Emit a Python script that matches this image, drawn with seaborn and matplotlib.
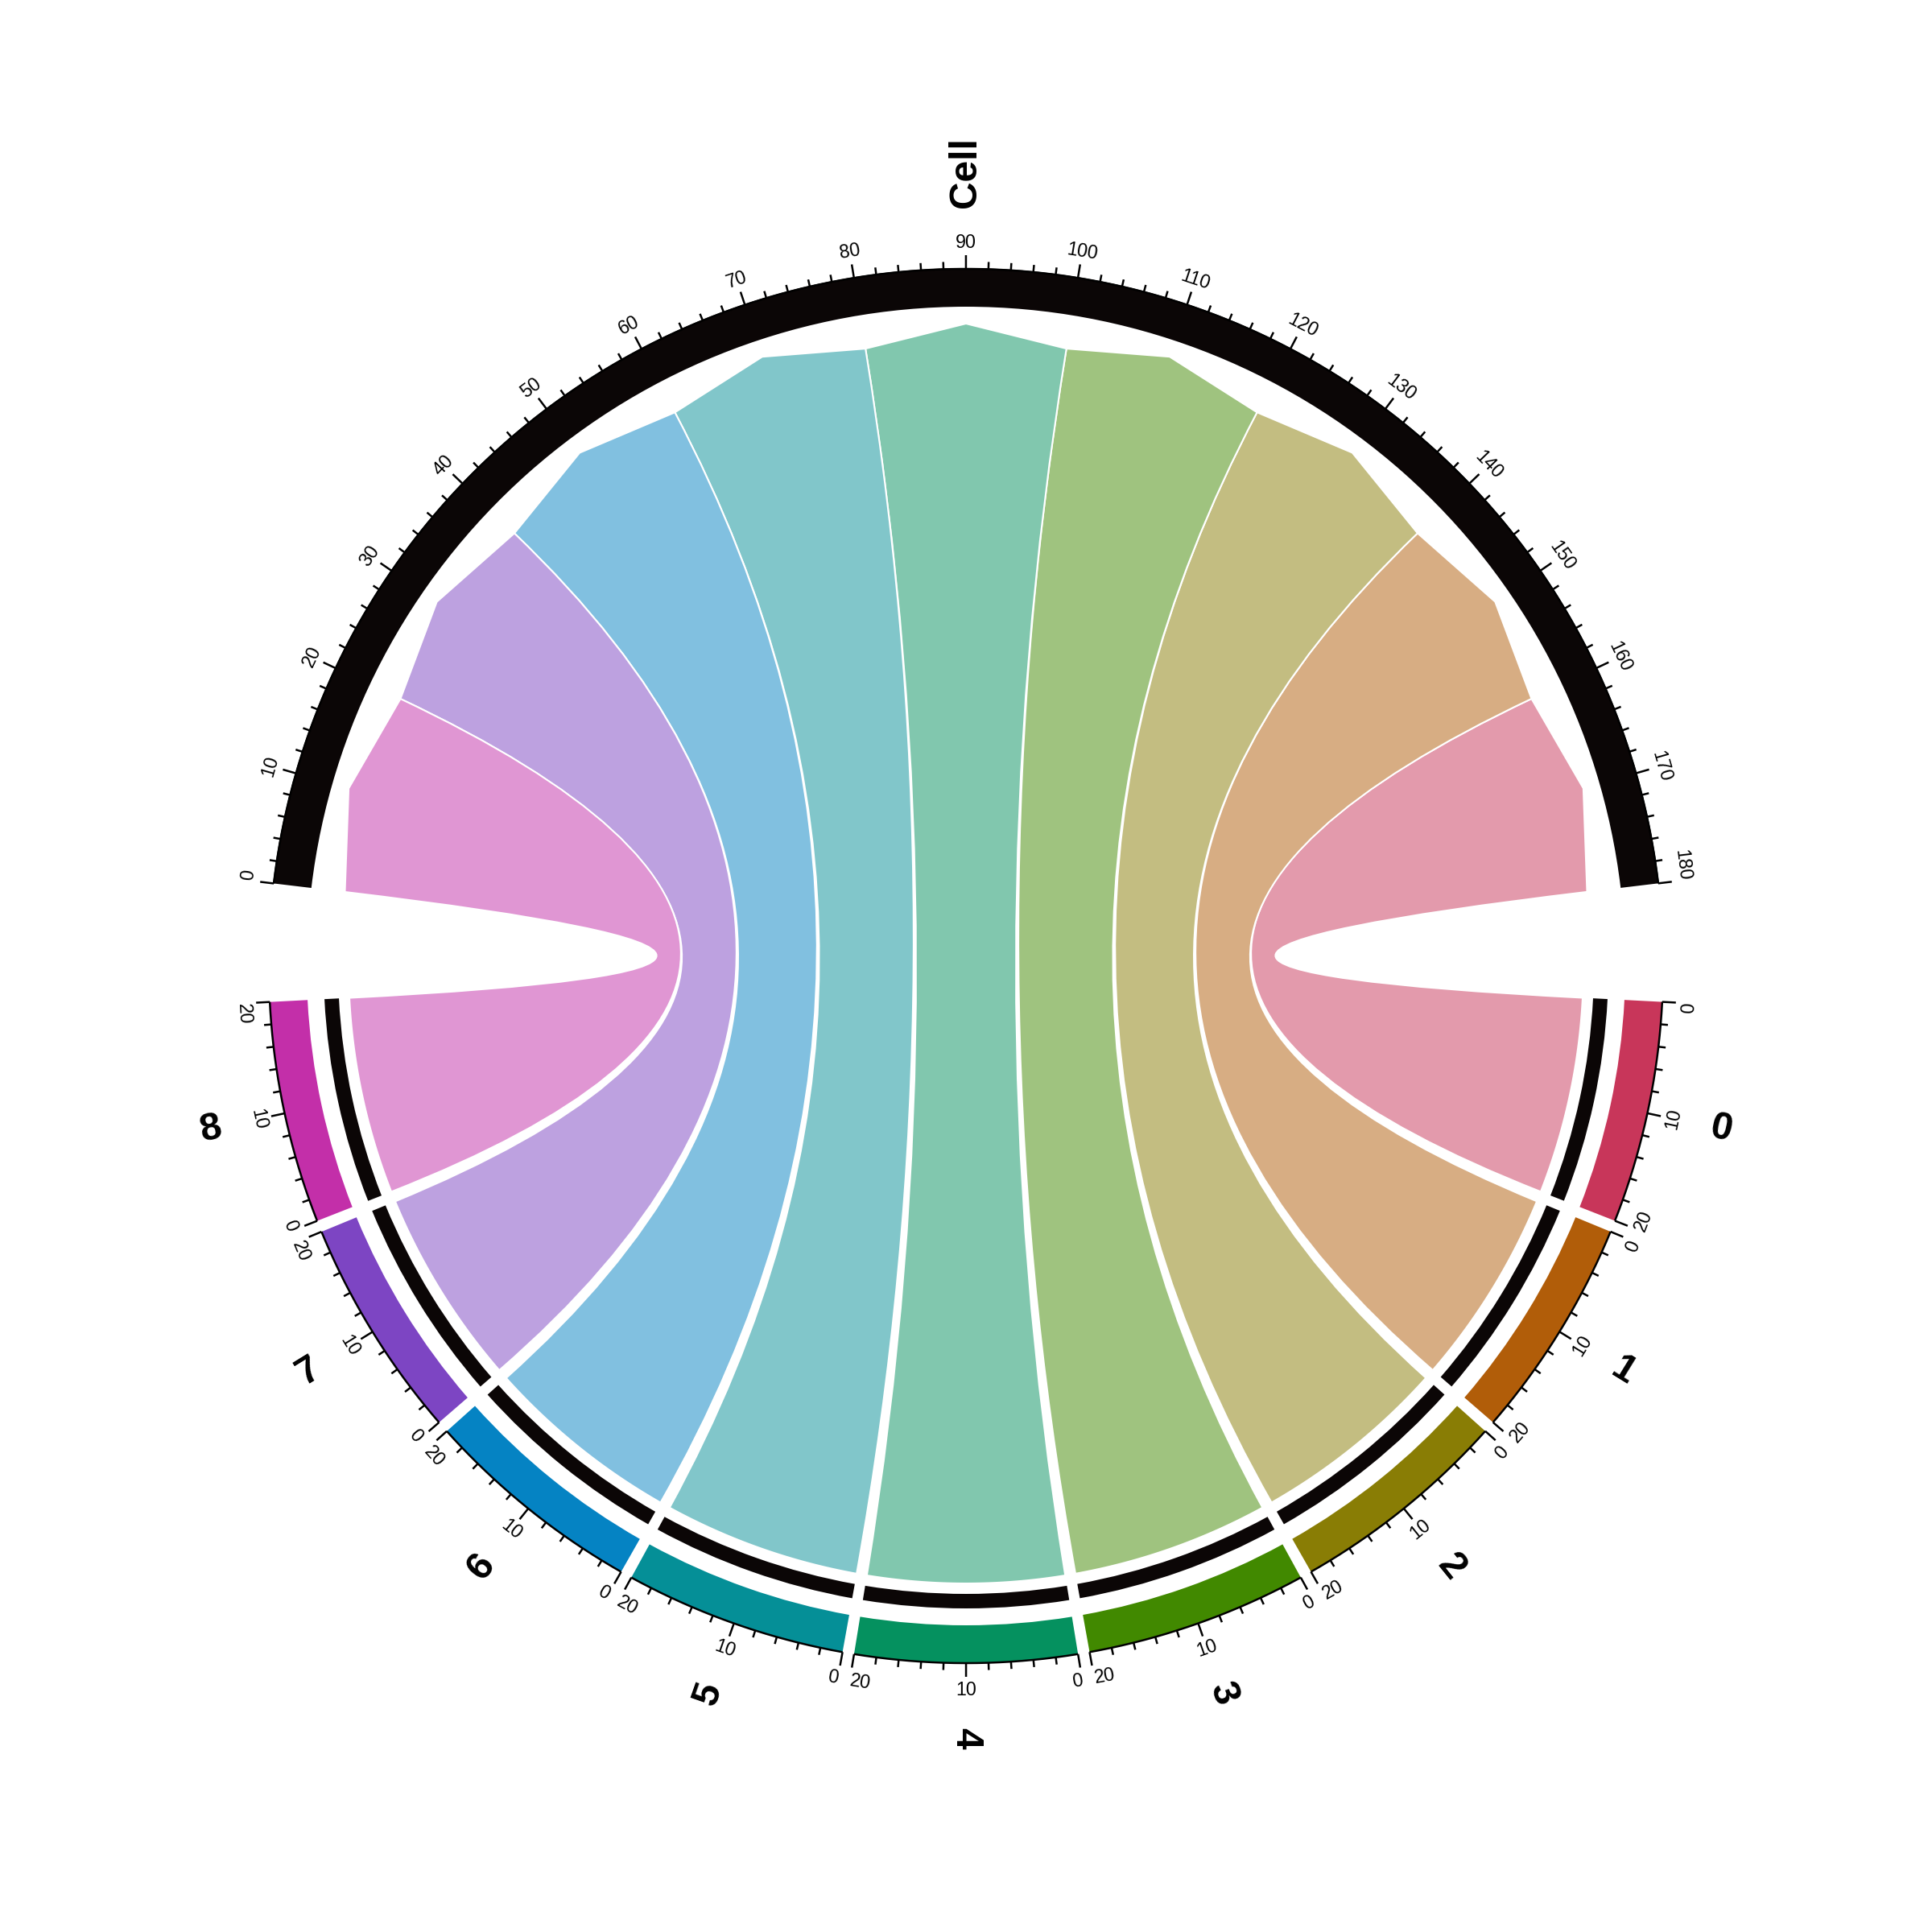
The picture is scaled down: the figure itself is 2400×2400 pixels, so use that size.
import numpy as np
import matplotlib
matplotlib.use('Agg')
import matplotlib.pyplot as plt
import seaborn as sns
from matplotlib.patches import Wedge, PathPatch
from matplotlib.path import Path

# data: each cluster links its cells to the single "Cell" sector
clusters = ['0', '1', '2', '3', '4', '5', '6', '7', '8']
cluster_cells = [20, 20, 20, 20, 20, 20, 20, 20, 20]
cluster_colors = ['#C8365A', '#B15D09', '#897D05', '#418900', '#05915F',
                  '#058F97', '#0583C3', '#7D45C3', '#C32FA9']
cell_name = 'Cell'
cell_color = '#0B0606'

sns.set_theme(style='white')
plt.rcParams['font.family'] = ['Liberation Sans', 'DejaVu Sans']
plt.rcParams['text.color'] = 'black'
palette = sns.color_palette(cluster_colors)

# layout, degrees and pixel radii on a 2400px canvas
UNIT = 0.9244
SMALL_GAP = 0.9625
CELL_START = 173.2
R_OUT, R_IN = 866, 819
R_BLK_OUT, R_BLK_IN = 798, 780
R_LINK = 767
R_CELL_LINK, R_CELL_TIP = 777, 798

total = sum(cluster_cells)
cell_end = CELL_START - total * UNIT
big_gap = (360 - 2 * total * UNIT - (len(clusters) - 1) * SMALL_GAP) / 2


def pol(theta, r):
    t = np.deg2rad(theta)
    return r * np.cos(t), r * np.sin(t)


def ring(ax, t1, t2, r_in, r_out, color):
    ax.add_patch(Wedge((0, 0), r_out, min(t1, t2), max(t1, t2),
                       width=r_out - r_in, facecolor=color, edgecolor='none'))


def axis_ticks(ax, t_start, size, flip):
    th = np.linspace(t_start, t_start - size * UNIT, 200)
    ax.plot(*pol(th, R_OUT), color='black', lw=0.6, solid_capstyle='butt')
    for v in range(0, size + 1, 2):
        t = t_start - v * UNIT
        ln = 17 if v % 10 == 0 else 9
        x0, y0 = pol(t, R_OUT)
        x1, y1 = pol(t, R_OUT + ln)
        ax.plot([x0, x1], [y0, y1], color='black', lw=0.6, solid_capstyle='butt')
        if v % 10 == 0:
            rot = t + 90 if flip else t - 90
            ha = 'center'
            # end labels are pushed inside their own sector
            if v == 0:
                ha = 'right' if flip else 'left'
            elif v == size:
                ha = 'left' if flip else 'right'
            ax.text(*pol(t, 899), str(v), rotation=rot, ha=ha, va='center',
                    fontsize=5.6, rotation_mode='anchor')


fig = plt.figure(figsize=(8, 8), dpi=300)
ax = fig.add_axes([0, 0, 1, 1])
ax.set_xlim(-1200, 1200)
ax.set_ylim(-1200, 1200)
ax.set_aspect('equal')
ax.axis('off')

# Cell sector
ring(ax, CELL_START, cell_end, R_IN, R_OUT + 1, cell_color)
axis_ticks(ax, CELL_START, total, flip=False)
ax.text(*pol(90, 942), cell_name, rotation=90, rotation_mode='anchor',
        ha='left', va='center', fontsize=11.5, fontweight='bold')

# cluster sectors
starts = []
s = cell_end - big_gap
for k, name in enumerate(clusters):
    starts.append(s)
    e = s - cluster_cells[k] * UNIT
    ring(ax, s, e, R_IN, R_OUT, palette[k])
    ring(ax, s, e, R_BLK_IN, R_BLK_OUT, cell_color)
    axis_ticks(ax, s, cluster_cells[k], flip=True)
    mid = (s + e) / 2
    if mid < -90.01:
        rot, ha = mid + 180, 'right'
    else:
        rot, ha = mid, 'left'
    ax.text(*pol(mid, 946), name, rotation=rot, rotation_mode='anchor',
            ha=ha, va='center', fontsize=11.5, fontweight='bold')
    s = e - SMALL_GAP

# chords
for k in range(len(clusters)):
    hi = total - sum(cluster_cells[:k])
    lo = hi - cluster_cells[k]
    a_lo = CELL_START - lo * UNIT
    a_hi = CELL_START - hi * UNIT
    b0 = starts[k]
    b1 = b0 - cluster_cells[k] * UNIT
    verts = [pol(a_lo, R_CELL_LINK), pol((a_lo + a_hi) / 2, R_CELL_TIP),
             pol(a_hi, R_CELL_LINK), (0, 0), pol(b0, R_LINK)]
    codes = [Path.MOVETO, Path.LINETO, Path.LINETO, Path.CURVE3, Path.CURVE3]
    for t in np.linspace(b0, b1, 40)[1:]:
        verts.append(pol(t, R_LINK))
        codes.append(Path.LINETO)
    verts += [(0, 0), pol(a_lo, R_CELL_LINK), (0, 0)]
    codes += [Path.CURVE3, Path.CURVE3, Path.CLOSEPOLY]
    ax.add_patch(PathPatch(Path(verts, codes), facecolor=(*palette[k], 0.5),
                           edgecolor='white', lw=0.5))

fig.savefig('out.png', dpi=300, facecolor='white')
